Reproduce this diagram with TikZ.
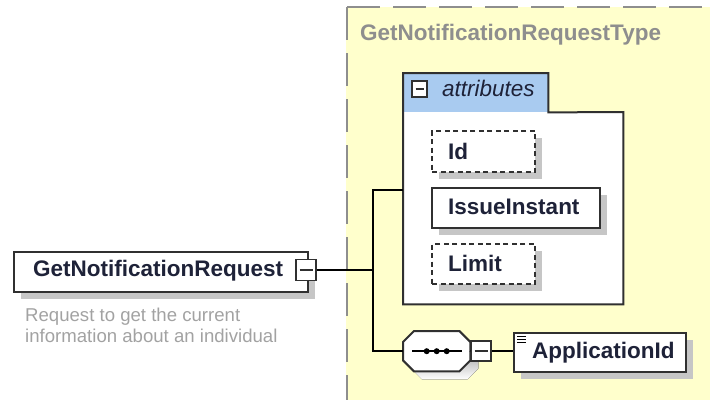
\documentclass[tikz,border=0pt]{standalone}
\usepackage{fontspec}
\setmainfont{Liberation Sans}
\usetikzlibrary{shadows,calc}
\definecolor{yel}{HTML}{FFFFCC}
\definecolor{tabblue}{HTML}{A9CBF0}
\definecolor{ink}{HTML}{1E2238}
\definecolor{edge}{HTML}{303030}
\definecolor{shade}{HTML}{C6C6C6}
\definecolor{dgray}{HTML}{8E8E8E}
\definecolor{desc}{HTML}{A2A2A2}
\begin{document}
\begin{tikzpicture}[x=1pt,y=-1pt,
 box/.style={draw=edge, line width=2pt, fill=white, anchor=north west, inner sep=0pt,
   drop shadow={shadow xshift=7pt, shadow yshift=-7pt, fill=shade, opacity=1}},
 optbox/.style={box, dash pattern=on 5pt off 3.5pt},
 lbl/.style={font=\bfseries\fontsize{22.5}{26}\selectfont, text=ink, anchor=west, inner sep=0pt},
 conn/.style={draw=black, line width=1.8pt},
 minusbox/.style={draw=edge, line width=1.8pt, fill=white, inner sep=0pt,
   path picture={\draw[line width=1.8pt] ($(path picture bounding box.west)+(3.5,0)$) -- ($(path picture bounding box.east)+(-3.5,0)$);}}
]
\useasboundingbox (0,0) rectangle (710,400);
% type area
\fill[yel] (346,7) rectangle (710,400);
\draw[dgray, line width=2.2pt, dash pattern=on 33pt off 13pt] (347,7) -- (710,7);
\draw[dgray, line width=2.2pt, dash pattern=on 33pt off 13pt] (347,7) -- (347,400);
\node[lbl, text=dgray] (title) at (360,35) {GetNotificationRequestType};

% root element
\node[box, minimum width=294pt, minimum height=40pt] (gnr) at (13,251) {};
\node[lbl] (gnrL) at (33,271) {GetNotificationRequest};
\node[minusbox, minimum width=20pt, minimum height=21pt] (gnrminus) at (306,270) {};
\node[anchor=north west, inner sep=0pt, align=left, text=desc,
      font=\fontsize{18.6}{21}\selectfont] (gnrdesc) at (25,308)
  {Request to get the current\\information about an individual};

% attributes group
\node[anchor=north west, inner sep=0pt, minimum width=220pt, minimum height=192pt, fill=white] (attrs) at (403,112) {};
\node[anchor=north west, inner sep=0pt, minimum width=145pt, minimum height=39pt, fill=tabblue] (attrtab) at (403,73) {};
\draw[edge, line width=2pt] (attrtab.north west) -- (attrtab.north east) -- (attrtab.south east)
  -- (attrs.north east) -- (attrs.south east) -- (attrs.south west) -- (attrtab.north west) -- cycle;
\node[minusbox, minimum width=15pt, minimum height=16pt] (attrminus) at (419.5,89) {};
\node[anchor=west, inner sep=0pt, font=\itshape\fontsize{22.5}{26}\selectfont, text=ink] (attrL) at (442,88) {attributes};

\node[optbox, minimum width=103pt, minimum height=41pt] (id) at (431,130) {};
\node[lbl] (idL) at (448,151) {Id};
\node[box, minimum width=168pt, minimum height=40pt] (issue) at (431,187) {};
\node[lbl] (issueL) at (448,207) {IssueInstant};
\node[optbox, minimum width=103pt, minimum height=40pt] (limit) at (431,243) {};
\node[lbl] (limitL) at (448,263) {Limit};

% sequence compositor
\node[anchor=north west, inner sep=0pt, minimum width=67pt, minimum height=40pt] (seq) at (403,331) {};
\fill[shade] ($(seq.north west)+(19,8)$) -- ($(seq.north east)+(-3,8)$) -- ($(seq.north east)+(8,19)$)
  -- ($(seq.south east)+(8,-3)$) -- ($(seq.south east)+(-3,8)$) -- ($(seq.south west)+(19,8)$)
  -- ($(seq.south west)+(8,-3)$) -- ($(seq.north west)+(8,19)$) -- cycle;
\draw[edge, line width=2pt, fill=white] ($(seq.north west)+(11,0)$) -- ($(seq.north east)+(-11,0)$) -- ($(seq.north east)+(0,11)$)
  -- ($(seq.south east)+(0,-11)$) -- ($(seq.south east)+(-11,0)$) -- ($(seq.south west)+(11,0)$)
  -- ($(seq.south west)+(0,-11)$) -- ($(seq.north west)+(0,11)$) -- cycle;
\draw[line width=1.8pt] ($(seq.west)+(9,0)$) -- ($(seq.east)+(-8,0)$);
\foreach \dx in {-10,0,10} \fill ($(seq.center)+(\dx,0)$) circle (3pt);
\node[minusbox, minimum width=20pt, minimum height=20pt] (seqminus) at (481,351) {};

% ApplicationId
\node[box, minimum width=172pt, minimum height=39pt] (appid) at (513,332) {};
\node[lbl] (appidL) at (532,353) {ApplicationId};
\foreach \yy in {336,339,342} \draw[line width=1pt] ($(appid.north west)+(4,\yy-332)$) -- ++(9,0);

% connectors
\coordinate (br) at (373,270);
\coordinate (attrIn) at (403,190);
\draw[conn] (gnrminus.east) -- (br);
\draw[conn] (attrIn) -| (br |- seq.west) -- (seq.west);
\draw[conn] (seq.east) -- (seqminus.west);
\draw[conn] (seqminus.east) -- (appid.west |- seqminus.east);
\end{tikzpicture}
\end{document}
